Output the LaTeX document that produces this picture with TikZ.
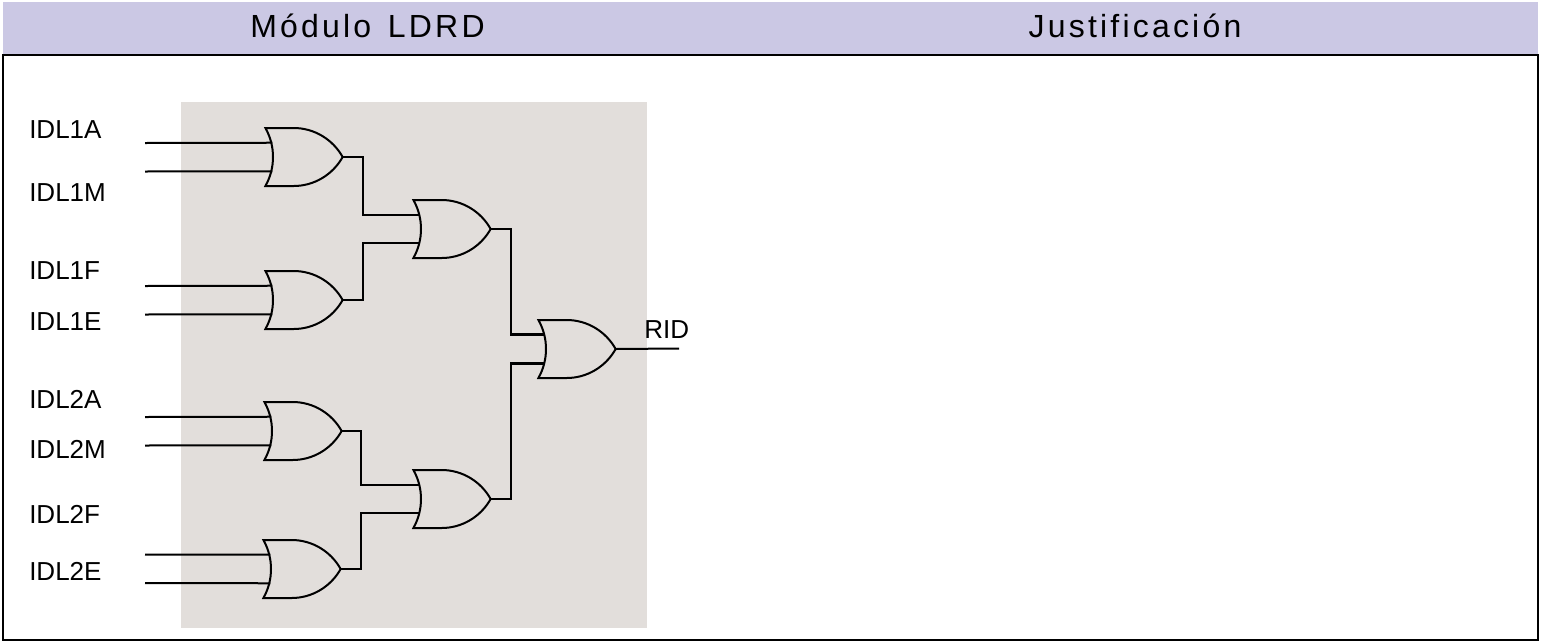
\documentclass[tikz,border=0pt]{standalone}
\usepackage{fontspec}
\setmainfont{Liberation Sans}
\newfontfamily\headfont[LetterSpace=10]{Liberation Sans}
\usetikzlibrary{shapes.gates.logic.US}
\definecolor{headblue}{HTML}{CBC8E4}
\definecolor{backgray}{HTML}{E2DEDB}
\tikzset{
  orgate/.style={or gate US, draw, anchor=west, line width=1.5pt, logic gate inputs=nn, minimum height=43.5pt, inner sep=0pt, outer sep=0pt, xscale=0.975, transform shape},
  wire/.style={line width=1.5pt, line join=miter},
  heavywire/.style={line width=2.6pt},
  inlabel/.style={anchor=west, inner sep=0pt, font=\fontsize{19.5}{22}\selectfont},
  headlabel/.style={inner sep=0pt, font=\fontsize{24}{28}\selectfont\headfont}
}
\begin{document}
\begin{tikzpicture}[x=0.75pt, y=-0.75pt]
\useasboundingbox (0,0) rectangle (1542,643);
\fill[headblue] (3,2) rectangle (1538,54);
\fill[backgray] (181,102) rectangle (647,628);
\draw[line width=1.6pt] (3,55) rectangle (1538,640);

\node[headlabel] (modulo) at (367.5,26) {Módulo\hspace{3.5pt} LDRD};
\node[headlabel] (justif) at (1135,26) {Justificación};

% first level gates
\node[orgate] (G1A) at (273,157) {};
\node[orgate] (G1F) at (273,300) {};
\node[orgate] (G2A) at (272,431) {};
\node[orgate] (G2F) at (271,569) {};
% second level gates
\node[orgate] (L1) at (421,229) {};
\node[orgate] (L2) at (421,499) {};
% last gate
\node[orgate] (R) at (546,349) {};

% points where the wires meet the back of a gate
\foreach \g in {G1A,G1F,G2A,G2F,L1,L2,R} {
  \coordinate (\g-1) at ([xshift=-0.5pt,yshift=10.7pt]\g.west);
  \coordinate (\g-2) at ([xshift=-0.5pt,yshift=-10.7pt]\g.west);
}

\node[inlabel] (idl1a) at (29,130) {IDL1A};
\node[inlabel] (idl1m) at (29,192.5) {IDL1M};
\node[inlabel] (idl1f) at (29,270.5) {IDL1F};
\node[inlabel] (idl1e) at (29,322) {IDL1E};
\node[inlabel] (idl2a) at (29,399) {IDL2A};
\node[inlabel] (idl2m) at (29,449) {IDL2M};
\node[inlabel] (idl2f) at (29,514) {IDL2F};
\node[inlabel] (idl2e) at (29,571) {IDL2E};
\node[inlabel] (rid) at (644,330) {RID};

\coordinate (a1) at (145,143);
\coordinate (m1) at (145,171.5);
\coordinate (f1) at (145,286);
\coordinate (e1) at (145,314.5);
\coordinate (a2) at (145,417);
\coordinate (m2) at (145,445.5);
\coordinate (f2) at (145,554.5);
\coordinate (e2) at (145,583);
\coordinate (out) at (679,348.5);
\coordinate (elbow) at ([xshift=15pt]L1.output);

\draw[wire] (a1) -- (G1A-1);
\draw[wire] (m1) -- (G1A-2);
\draw[wire] (f1) -- (G1F-1);
\draw[wire] (e1) -- (G1F-2);
\draw[wire] (a2) -- (G2A-1);
\draw[wire] (m2) -- (G2A-2);
\draw[wire] (f2) -- (G2F-1);
\draw[wire] (e2) -- (G2F-2);

\draw[wire] (G1A.output) -- ++(20,0) |- (L1-1);
\draw[wire] (G1F.output) -- ++(20,0) |- (L1-2);
\draw[wire] (G2A.output) -- ++(19,0) |- (L2-1);
\draw[wire] (G2F.output) -- ++(20,0) |- (L2-2);
\draw[wire] (L1.output) -- ++(20,0) |- (R-1);
\draw[wire] (L2.output) -- ++(20,0) |- (R-2);
\draw[heavywire] (elbow |- R-1) -- (R-1);
\draw[heavywire] (elbow |- R-2) -- (R-2);
\draw[wire] (R.output) -- (out);
\end{tikzpicture}
\end{document}
